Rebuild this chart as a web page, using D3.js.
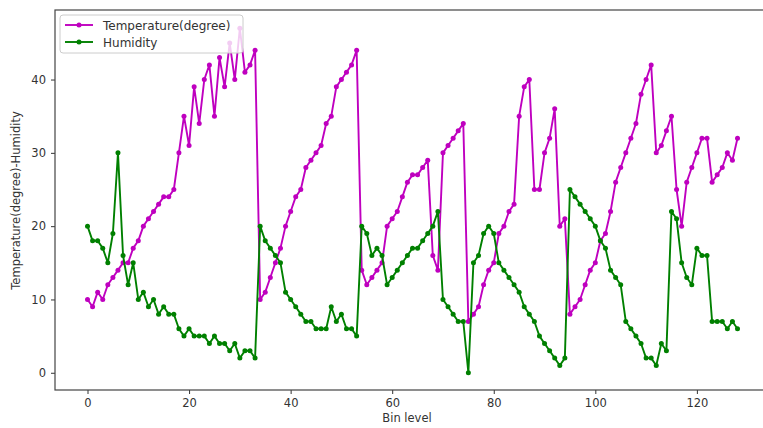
<!DOCTYPE html>
<html>
<head>
<meta charset="utf-8">
<script src="https://cdn.jsdelivr.net/npm/d3@7"></script>
<style>
  html, body { margin: 0; padding: 0; background: #fff; overflow: hidden; }
  svg { display: block; font-family: "DejaVu Sans", sans-serif; }
</style>
</head>
<body>
<svg id="chart" width="763" height="428"></svg>
<script>
// --- data ---
const bins = d3.range(0, 129);
const temperature = [
  10, 9, 11, 10, 12, 13, 14, 15, 15, 17,
  18, 20, 21, 22, 23, 24, 24, 25, 30, 35,
  31, 39, 34, 40, 42, 35, 43, 39, 45, 40,
  47, 41, 42, 44, 10, 11, 13, 15, 17, 20,
  22, 24, 25, 28, 29, 30, 31, 34, 35, 39,
  40, 41, 42, 44, 14, 12, 13, 14, 15, 20,
  21, 22, 24, 26, 27, 27, 28, 29, 16, 14,
  30, 31, 32, 33, 34, 7, 8, 9, 12, 14,
  15, 19, 20, 22, 23, 35, 39, 40, 25, 25,
  30, 32, 36, 20, 21, 8, 9, 10, 12, 14,
  15, 18, 19, 22, 26, 28, 30, 32, 34, 38,
  40, 42, 30, 31, 33, 35, 25, 20, 26, 28,
  30, 32, 32, 26, 27, 28, 30, 29, 32
];
const humidity = [
  20, 18, 18, 17, 15, 19, 30, 16, 12, 15,
  10, 11, 9, 10, 8, 9, 8, 8, 6, 5,
  6, 5, 5, 5, 4, 5, 4, 4, 3, 4,
  2, 3, 3, 2, 20, 18, 17, 16, 15, 11,
  10, 9, 8, 7, 7, 6, 6, 6, 9, 7,
  8, 6, 6, 5, 20, 19, 16, 17, 16, 12,
  13, 14, 15, 16, 17, 17, 18, 19, 20, 22,
  10, 9, 8, 7, 7, 0, 15, 16, 19, 20,
  19, 15, 14, 13, 12, 11, 9, 8, 7, 5,
  4, 3, 2, 1, 2, 25, 24, 23, 22, 21,
  20, 18, 17, 14, 13, 12, 7, 6, 5, 4,
  2, 2, 1, 4, 3, 22, 21, 15, 13, 12,
  17, 16, 16, 7, 7, 7, 6, 7, 6
];
const xTicks = [0, 20, 40, 60, 80, 100, 120];
const yTicks = [0, 10, 20, 30, 40];
const seriesNames = ["Temperature(degree)", "Humidity"];
const seriesColors = ["#bf00bf", "#008000"];

// --- layout (plot area runs past the right edge, like the reference crop) ---
const plotL = 55, plotR = 770, plotT = 11, plotB = 390;

const svg = d3.select("#chart");

// matplotlib-style 5% margins around the data
const xPad = (d3.max(bins) - d3.min(bins)) * 0.05;
const yMax = d3.max([...temperature, ...humidity]);
const yPad = yMax * 0.05;

const x = d3.scaleLinear()
  .domain([d3.min(bins) - xPad, d3.max(bins) + xPad])
  .range([plotL, plotR]);
const y = d3.scaleLinear()
  .domain([0 - yPad, yMax + yPad])
  .range([plotB, plotT]);

// axes
const xAxis = svg.append("g")
  .attr("transform", `translate(0,${plotB})`)
  .call(d3.axisBottom(x).tickValues(xTicks).tickSize(4).tickPadding(5).tickSizeOuter(0));
const yAxis = svg.append("g")
  .attr("transform", `translate(${plotL},0)`)
  .call(d3.axisLeft(y).tickValues(yTicks).tickSize(4).tickPadding(5).tickSizeOuter(0));

[xAxis, yAxis].forEach(a => {
  a.select(".domain").remove();
  a.selectAll("line").attr("stroke", "#333");
  a.selectAll("text")
    .attr("fill", "#333")
    .style("font-size", "11.5px")
    .style("font-family", "DejaVu Sans, sans-serif");
});

// frame
svg.append("rect")
  .attr("x", plotL).attr("y", plotT - 1)
  .attr("width", plotR - plotL).attr("height", plotB - plotT + 1)
  .attr("fill", "none")
  .attr("stroke", "#444")
  .attr("stroke-width", 1.2);

// series
const series = [temperature, humidity];
const line = d3.line()
  .x((d, i) => x(bins[i]))
  .y(d => y(d));

series.forEach((vals, k) => {
  const g = svg.append("g");
  g.append("path")
    .datum(vals)
    .attr("d", line)
    .attr("fill", "none")
    .attr("stroke", seriesColors[k])
    .attr("stroke-width", 1.9)
    .attr("stroke-linejoin", "round");
  g.selectAll("circle")
    .data(vals)
    .enter()
    .append("circle")
    .attr("cx", (d, i) => x(bins[i]))
    .attr("cy", d => y(d))
    .attr("r", 2.5)
    .attr("fill", seriesColors[k]);
});

// axis titles
svg.append("text")
  .attr("x", 407)
  .attr("y", 422)
  .attr("text-anchor", "middle")
  .attr("fill", "#333")
  .style("font-size", "11.5px")
  .text("Bin level");

svg.append("text")
  .attr("transform", `translate(20,${(plotT + plotB) / 2}) rotate(-90)`)
  .attr("text-anchor", "middle")
  .attr("fill", "#333")
  .style("font-size", "11.5px")
  .text("Temperature(degree)-Humidity");

// legend
const legend = svg.append("g").attr("transform", "translate(60,15)");
legend.append("rect")
  .attr("width", 183).attr("height", 38)
  .attr("rx", 3)
  .attr("fill", "#fff").attr("fill-opacity", 0.8)
  .attr("stroke", "#ccc");

seriesNames.forEach((name, k) => {
  const row = legend.append("g").attr("transform", `translate(5,${10 + k * 17})`);
  row.append("line")
    .attr("x1", 0).attr("x2", 28)
    .attr("stroke", seriesColors[k]).attr("stroke-width", 1.9);
  row.append("circle")
    .attr("cx", 14).attr("r", 2.5)
    .attr("fill", seriesColors[k]);
  row.append("text")
    .attr("x", 38).attr("y", 4.5)
    .attr("fill", "#333")
    .style("font-size", "12px")
    .text(name);
});
</script>
</body>
</html>
